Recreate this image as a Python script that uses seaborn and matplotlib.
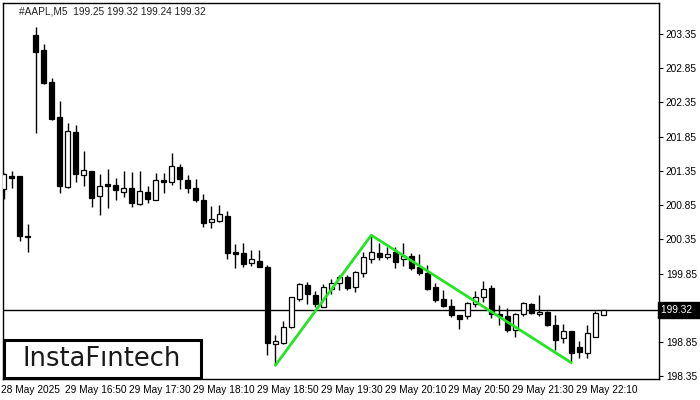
import numpy as np
import pandas as pd
import matplotlib
matplotlib.use("Agg")
import matplotlib.pyplot as plt
import matplotlib.transforms as mtransforms
import seaborn as sns

# AAPL M5 candles
opens = [201.08, 201.27, 201.27, 200.40, 203.34, 203.12, 202.65, 202.14, 201.11, 201.92,
         201.29, 201.35, 200.98, 201.16, 201.14, 201.04, 201.10, 200.86, 201.04, 200.92,
         201.22, 201.19, 201.41, 201.22, 201.10, 200.92, 200.60, 200.62, 200.69, 200.16,
         200.15, 200.00, 200.03, 199.94, 198.82, 198.83, 199.07, 199.48, 199.68, 199.53,
         199.36, 199.62, 199.71, 199.80, 199.65, 199.86, 200.06, 200.15, 200.09, 200.16,
         200.06, 200.10, 199.94, 199.86, 199.65, 199.48, 199.37, 199.24, 199.23, 199.40,
         199.51, 199.64, 199.26, 199.23, 199.02, 199.26, 199.40, 199.26, 199.29, 199.10,
         198.91, 199.01, 198.77, 198.69, 198.93, 199.25]
highs = [201.32, 201.35, 201.28, 200.57, 203.45, 203.20, 202.71, 202.37, 202.05, 202.02,
         201.64, 201.35, 201.30, 201.38, 201.24, 201.35, 201.33, 201.35, 201.13, 201.32,
         201.32, 201.61, 201.45, 201.29, 201.23, 201.01, 200.84, 200.85, 200.76, 200.28,
         200.29, 200.19, 200.19, 199.97, 198.95, 199.15, 199.51, 199.71, 199.72, 199.59,
         199.70, 199.77, 199.83, 199.83, 199.88, 200.16, 200.41, 200.29, 200.24, 200.24,
         200.29, 200.15, 200.13, 199.97, 199.71, 199.61, 199.48, 199.24, 199.43, 199.59,
         199.74, 199.68, 199.39, 199.34, 199.27, 199.43, 199.42, 199.53, 199.30, 199.24,
         199.12, 199.01, 198.86, 199.10, 199.31, 199.32]
lows = [200.94, 201.10, 200.32, 200.16, 201.90, 202.62, 202.09, 201.03, 201.10, 201.19,
        201.13, 200.82, 200.70, 200.81, 200.92, 200.97, 200.82, 200.85, 200.88, 200.92,
        201.03, 201.14, 201.08, 201.03, 200.89, 200.53, 200.51, 200.60, 200.06, 199.93,
        199.94, 199.96, 199.94, 198.66, 198.51, 198.82, 199.05, 199.45, 199.40, 199.36,
        199.36, 199.55, 199.61, 199.61, 199.58, 199.80, 200.00, 200.05, 200.06, 199.93,
        199.96, 199.90, 199.83, 199.61, 199.43, 199.36, 199.21, 199.04, 199.18, 199.36,
        199.43, 199.20, 199.10, 198.99, 198.93, 199.23, 199.26, 199.23, 199.08, 198.74,
        198.83, 198.55, 198.61, 198.61, 198.92, 199.24]
closes = [201.30, 201.24, 200.40, 200.38, 203.09, 202.63, 202.11, 201.13, 201.93, 201.30,
          201.36, 200.95, 201.13, 201.13, 201.07, 201.10, 200.88, 201.05, 200.94, 201.22,
          201.19, 201.42, 201.23, 201.10, 200.92, 200.59, 200.65, 200.72, 200.15, 200.13,
          199.99, 200.06, 199.94, 198.83, 198.86, 199.07, 199.50, 199.70, 199.55, 199.40,
          199.65, 199.71, 199.80, 199.64, 199.87, 200.09, 200.16, 200.09, 200.13, 200.02,
          200.10, 199.93, 199.86, 199.62, 199.46, 199.37, 199.24, 199.18, 199.42, 199.51,
          199.62, 199.26, 199.23, 199.02, 199.26, 199.42, 199.27, 199.29, 199.10, 198.88,
          199.01, 198.69, 198.70, 198.98, 199.27, 199.32]

tick_idx = [0, 8, 16, 24, 32, 40, 48, 56, 64, 72]
tick_labels = ["28 May 2025", "29 May 16:50", "29 May 17:30", "29 May 18:10", "29 May 18:50",
               "29 May 19:30", "29 May 20:10", "29 May 20:50", "29 May 21:30", "29 May 22:10"]
# 199.35 is hidden behind the current price marker
price_ticks = [198.35, 198.85, 199.85, 200.35, 200.85, 201.35, 201.85, 202.35, 202.85, 203.35]
# double bottom pattern: first low, peak, second low (candle indices)
pattern_idx = [34, 46, 71]
last_price = 199.32
title = "#AAPL,M5  199.25 199.32 199.24 199.32"

df = pd.DataFrame({"open": opens, "high": highs, "low": lows, "close": closes})
df["x"] = np.arange(len(df))
df["up"] = df["close"] >= df["open"]

sns.set_style("white")
plt.rcParams["font.family"] = ["Liberation Sans", "DejaVu Sans"]

fig = plt.figure(figsize=(7, 4), dpi=100)
ax = fig.add_axes([0.0036, 0.0525, 0.9378, 0.94])

ax.vlines(df["x"], df["low"], df["high"], color="black", linewidth=1, zorder=2)
body_lo = df[["open", "close"]].min(axis=1)
body_h = (df["close"] - df["open"]).abs().clip(lower=0.012)
ax.bar(df["x"], body_h, bottom=body_lo, width=0.62,
       color=np.where(df["up"], "white", "black"), edgecolor="black", linewidth=0.9, zorder=3)

pat = pd.DataFrame({
    "x": pattern_idx,
    "y": [df["low"][pattern_idx[0]], df["high"][pattern_idx[1]], df["low"][pattern_idx[2]]],
})
sns.lineplot(data=pat, x="x", y="y", color="#22e622", linewidth=2, ax=ax, zorder=4, sort=False)

ax.axhline(last_price, color="black", linewidth=1, zorder=1)

ax.set_xlim(-0.15, 82)
ax.set_ylim(198.31, 203.80)
ax.set_xlabel("")
ax.set_ylabel("")

ax.yaxis.tick_right()
ax.set_yticks(price_ticks)
ax.set_yticklabels([f"{p:.2f}" for p in price_ticks])
ax.set_xticks(tick_idx)
ax.set_xticklabels(tick_labels, ha="left")
ax.tick_params(axis="both", which="both", length=3, width=0.8, labelsize=7.3, colors="black",
               direction="out", pad=2)
ax.tick_params(axis="x", pad=1)
for lab in ax.get_xticklabels():
    lab.set_transform(lab.get_transform() + mtransforms.ScaledTranslation(-2 / 72, 0, fig.dpi_scale_trans))

for s in ax.spines.values():
    s.set_visible(True)
    s.set_color("black")
    s.set_linewidth(1)

ax.text(0.025, 0.978, title, transform=ax.transAxes, fontsize=7.3, va="center", ha="left", color="#222222")

# current price marker on the scale
trans = mtransforms.blended_transform_factory(ax.transAxes, ax.transData)
ax.text(1.003, last_price, "199.32   ", transform=trans, fontsize=7.3, color="white", va="center", ha="left",
        bbox=dict(boxstyle="square,pad=0.3", facecolor="black", edgecolor="black"))

# logo
fig.patches.append(plt.Rectangle((4 / 700, 22 / 400), 197 / 700, 38 / 400, transform=fig.transFigure,
                                 facecolor="white", edgecolor="black", linewidth=2.2, zorder=5))
fig.text(102 / 700, 41 / 400, "InstaF\u0131ntech", fontsize=18.5, ha="center", va="center",
         color="#1a1a1a", fontfamily="DejaVu Sans", fontweight="medium", zorder=6)

fig.savefig("out.png", dpi=100)
